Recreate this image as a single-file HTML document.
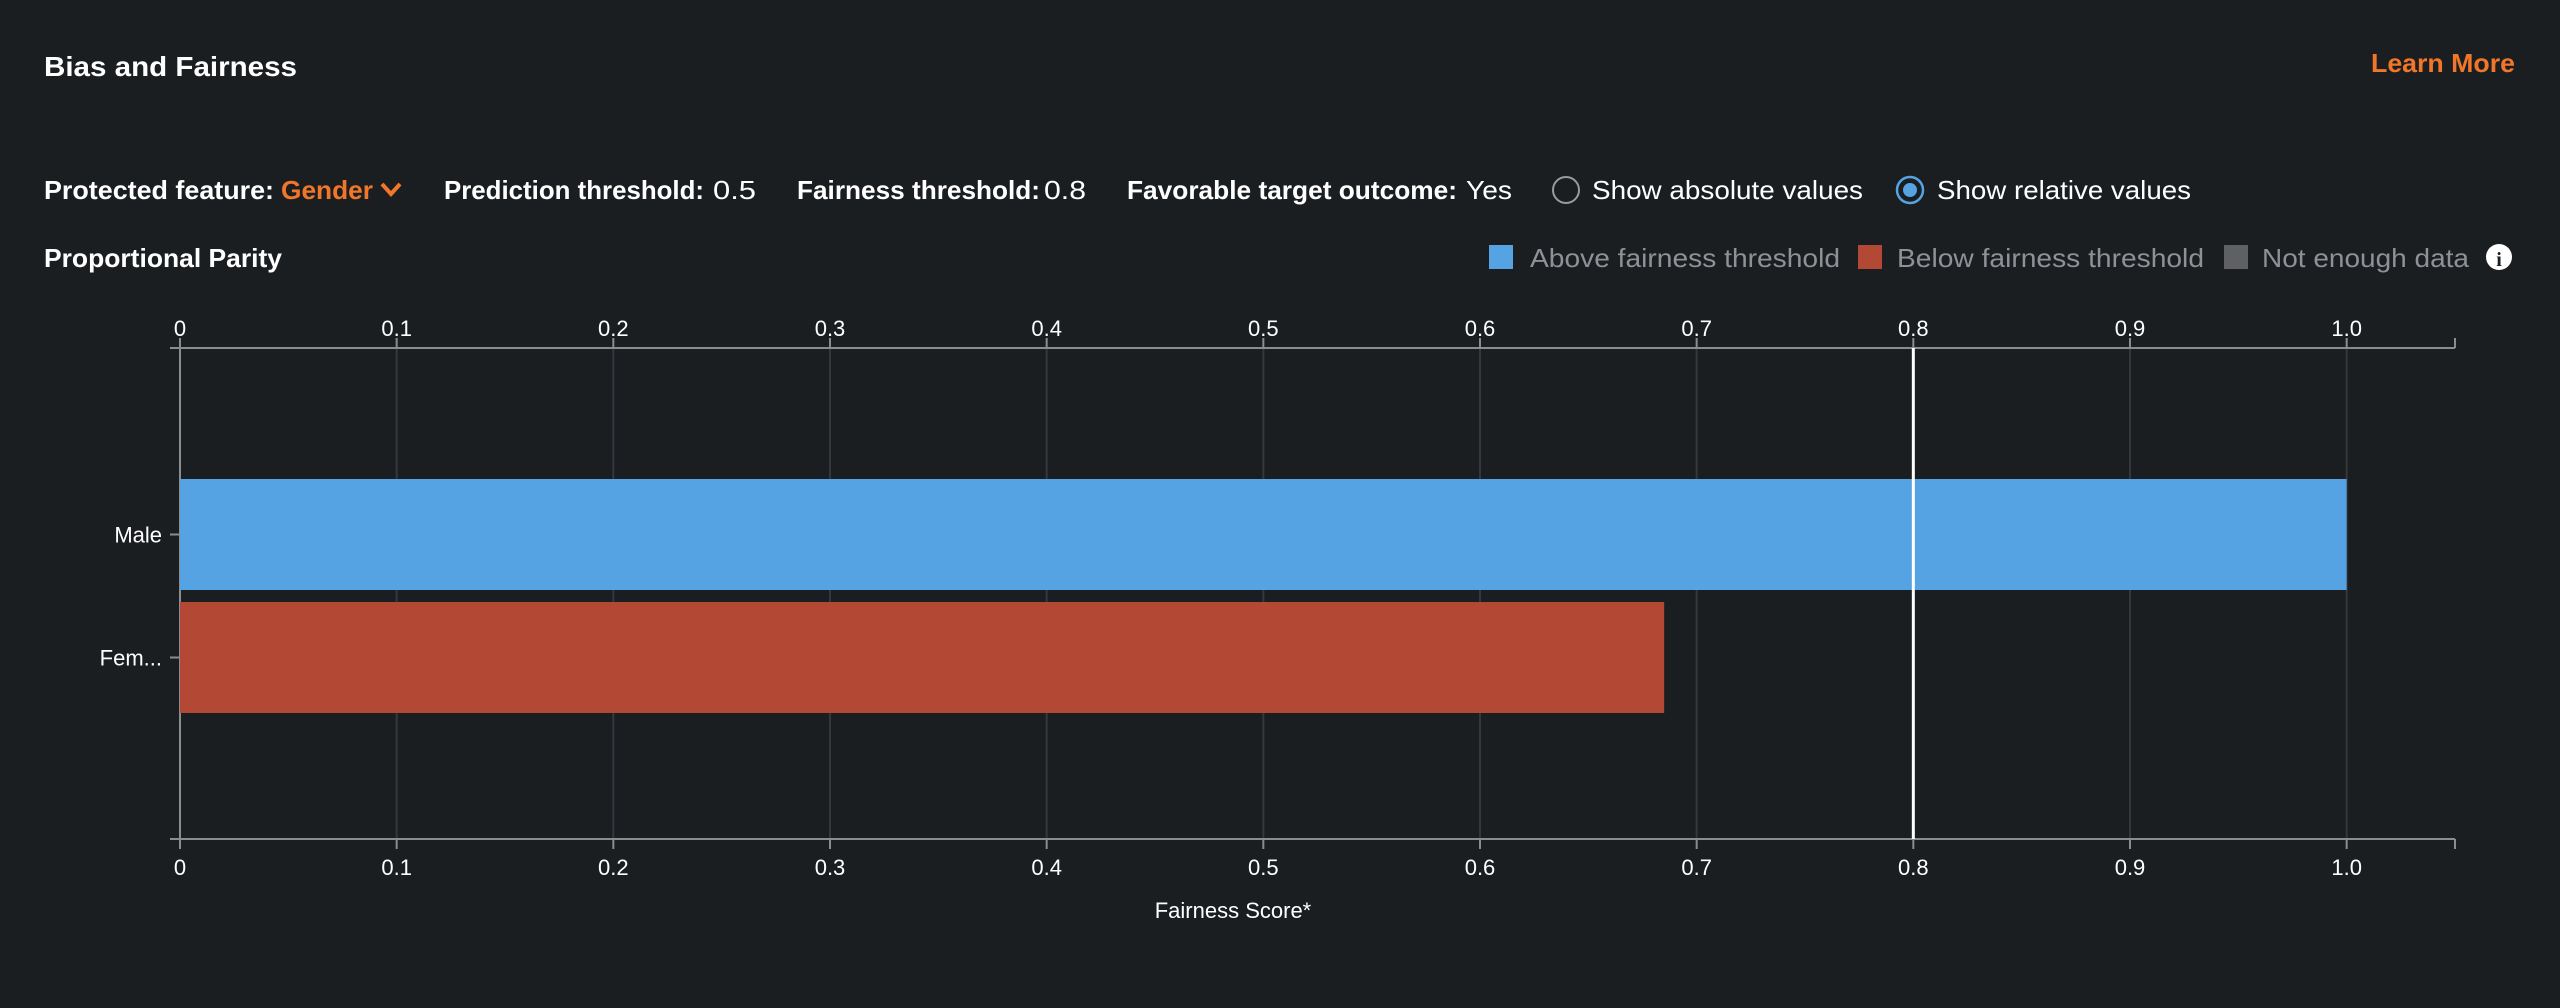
<!DOCTYPE html>
<html><head><meta charset="utf-8"><style>
html,body{margin:0;padding:0;background:#1b1e21;}
svg{display:block;font-family:"Liberation Sans",sans-serif;}
</style></head><body>
<svg id="chart" width="2560" height="1008" viewBox="0 0 2560 1008">
<rect x="0" y="0" width="2560" height="1008" fill="#1b1e21"/>
<text x="44" y="76" fill="#ffffff" font-size="28" font-weight="bold" textLength="253" lengthAdjust="spacingAndGlyphs">Bias and Fairness</text>
<text x="2371" y="72" fill="#f0762a" font-size="26" font-weight="bold" textLength="144" lengthAdjust="spacingAndGlyphs">Learn More</text>

<g font-size="26" fill="#ffffff">
<text x="44" y="199" font-weight="bold" textLength="230" lengthAdjust="spacingAndGlyphs">Protected feature:</text>
<g>
<text x="281" y="199" fill="#f0762a" font-weight="bold" textLength="92" lengthAdjust="spacingAndGlyphs">Gender</text>
<path d="M382 184 L391 194 L400 184" fill="none" stroke="#f0762a" stroke-width="4"/>
</g>
<text x="444" y="199" font-weight="bold" textLength="260" lengthAdjust="spacingAndGlyphs">Prediction threshold:</text>
<text x="713" y="199" textLength="43" lengthAdjust="spacingAndGlyphs">0.5</text>
<text x="797" y="199" font-weight="bold" textLength="243" lengthAdjust="spacingAndGlyphs">Fairness threshold:</text>
<text x="1044" y="199" textLength="42" lengthAdjust="spacingAndGlyphs">0.8</text>
<text x="1127" y="199" font-weight="bold" textLength="330" lengthAdjust="spacingAndGlyphs">Favorable target outcome:</text>
<text x="1466" y="199" textLength="46" lengthAdjust="spacingAndGlyphs">Yes</text>
<g>
<circle cx="1566" cy="190" r="13" fill="none" stroke="#9a9a9a" stroke-width="2"/>
<text x="1592" y="199" textLength="271" lengthAdjust="spacingAndGlyphs">Show absolute values</text>
</g>
<g>
<circle cx="1910" cy="190" r="13" fill="none" stroke="#55a3e2" stroke-width="2.5"/>
<circle cx="1910" cy="190" r="7" fill="#55a3e2"/>
<text x="1937" y="199" textLength="254" lengthAdjust="spacingAndGlyphs">Show relative values</text>
</g>
</g>

<text x="44" y="267" fill="#ffffff" font-size="26" font-weight="bold" textLength="238" lengthAdjust="spacingAndGlyphs">Proportional Parity</text>

<g font-size="26" fill="#8e9195">
<rect x="1489" y="245" width="24" height="24" fill="#55a3e2"/>
<text x="1530" y="267" textLength="310" lengthAdjust="spacingAndGlyphs">Above fairness threshold</text>
<rect x="1858" y="245" width="24" height="24" fill="#b34834"/>
<text x="1897" y="267" textLength="307" lengthAdjust="spacingAndGlyphs">Below fairness threshold</text>
<rect x="2224" y="245" width="24" height="24" fill="#5e6063"/>
<text x="2262" y="267" textLength="207" lengthAdjust="spacingAndGlyphs">Not enough data</text>
</g>
<g>
<circle cx="2499" cy="257" r="13" fill="#ffffff"/>
<text x="2499" y="266" fill="#1b1e21" font-size="20" font-weight="bold" text-anchor="middle" font-family="Liberation Serif, serif">i</text>
</g>

<g id="plot"></g>
</svg>
<script>
const categories = ["Male", "Fem..."];
const scores = [1.0, 0.685];
const tickValues = [0, 0.1, 0.2, 0.3, 0.4, 0.5, 0.6, 0.7, 0.8, 0.9, 1.0];
const tickLabels = ["0", "0.1", "0.2", "0.3", "0.4", "0.5", "0.6", "0.7", "0.8", "0.9", "1.0"];
const fairnessThreshold = 0.8;
const xDomainMax = 1.05;

const NS = "http://www.w3.org/2000/svg";
const plot = document.getElementById("plot");
const X0 = 180, X1 = 2455, YT = 348, YB = 839;
const step = 123, barH = 111;
function x(v){ return X0 + (v / xDomainMax) * (X1 - X0); }
function yc(i){ return YT + step * (i + 1.5) + 2; }
function mk(tag, attrs){ const e = document.createElementNS(NS, tag); for (const k in attrs) e.setAttribute(k, attrs[k]); plot.appendChild(e); return e; }

tickValues.forEach((v, i) => {
  const g = mk("line", {x1: x(v), x2: x(v), y1: YT, y2: YB, stroke: "#34373b", "stroke-width": 2});
  
  
  const tt = mk("line", {x1: x(v), x2: x(v), y1: YT - 10, y2: YT, stroke: "#8a8d90", "stroke-width": 2});
  
  
  const tb = mk("line", {x1: x(v), x2: x(v), y1: YB, y2: YB + 10, stroke: "#8a8d90", "stroke-width": 2});
  
  
  const lt = mk("text", {x: x(v), y: 336, fill: "#ffffff", "font-size": 22, "text-anchor": "middle"});
  lt.textContent = tickLabels[i];
  
  
  const lb = mk("text", {x: x(v), y: 875, fill: "#ffffff", "font-size": 22, "text-anchor": "middle"});
  lb.textContent = tickLabels[i];
  
  
});

[[YT, "top-axis-line"], [YB, "bottom-axis-line"]].forEach(([yy, nm]) => {
  const l = mk("line", {x1: X0 - 10, x2: X1, y1: yy, y2: yy, stroke: "#8a8d90", "stroke-width": 2});
  
  
  const e = mk("line", {x1: X1, x2: X1, y1: nm === "top-axis-line" ? yy - 10 : yy, y2: nm === "top-axis-line" ? yy : yy + 10, stroke: "#8a8d90", "stroke-width": 2});
  
  
});
const ya = mk("line", {x1: X0, x2: X0, y1: YT, y2: YB, stroke: "#8a8d90", "stroke-width": 2});



categories.forEach((c, i) => {
  const v = scores[i];
  const b = mk("rect", {x: x(0), y: yc(i) - barH / 2, width: x(v) - x(0), height: barH, fill: v >= fairnessThreshold ? "#55a3e2" : "#b34834"});
  
  
  const t = mk("line", {x1: X0 - 10, x2: X0, y1: yc(i), y2: yc(i), stroke: "#8a8d90", "stroke-width": 2});
  
  
  const l = mk("text", {x: 162, y: yc(i) + 8, fill: "#ffffff", "font-size": 22, "text-anchor": "end"});
  l.textContent = c;
  
  
});

const th = mk("line", {x1: x(fairnessThreshold), x2: x(fairnessThreshold), y1: YT, y2: YB, stroke: "#ffffff", "stroke-width": 3});



const xt = mk("text", {x: 1233, y: 918, fill: "#ffffff", "font-size": 22, "text-anchor": "middle"});
xt.textContent = "Fairness Score*";


</script>
</body></html>
